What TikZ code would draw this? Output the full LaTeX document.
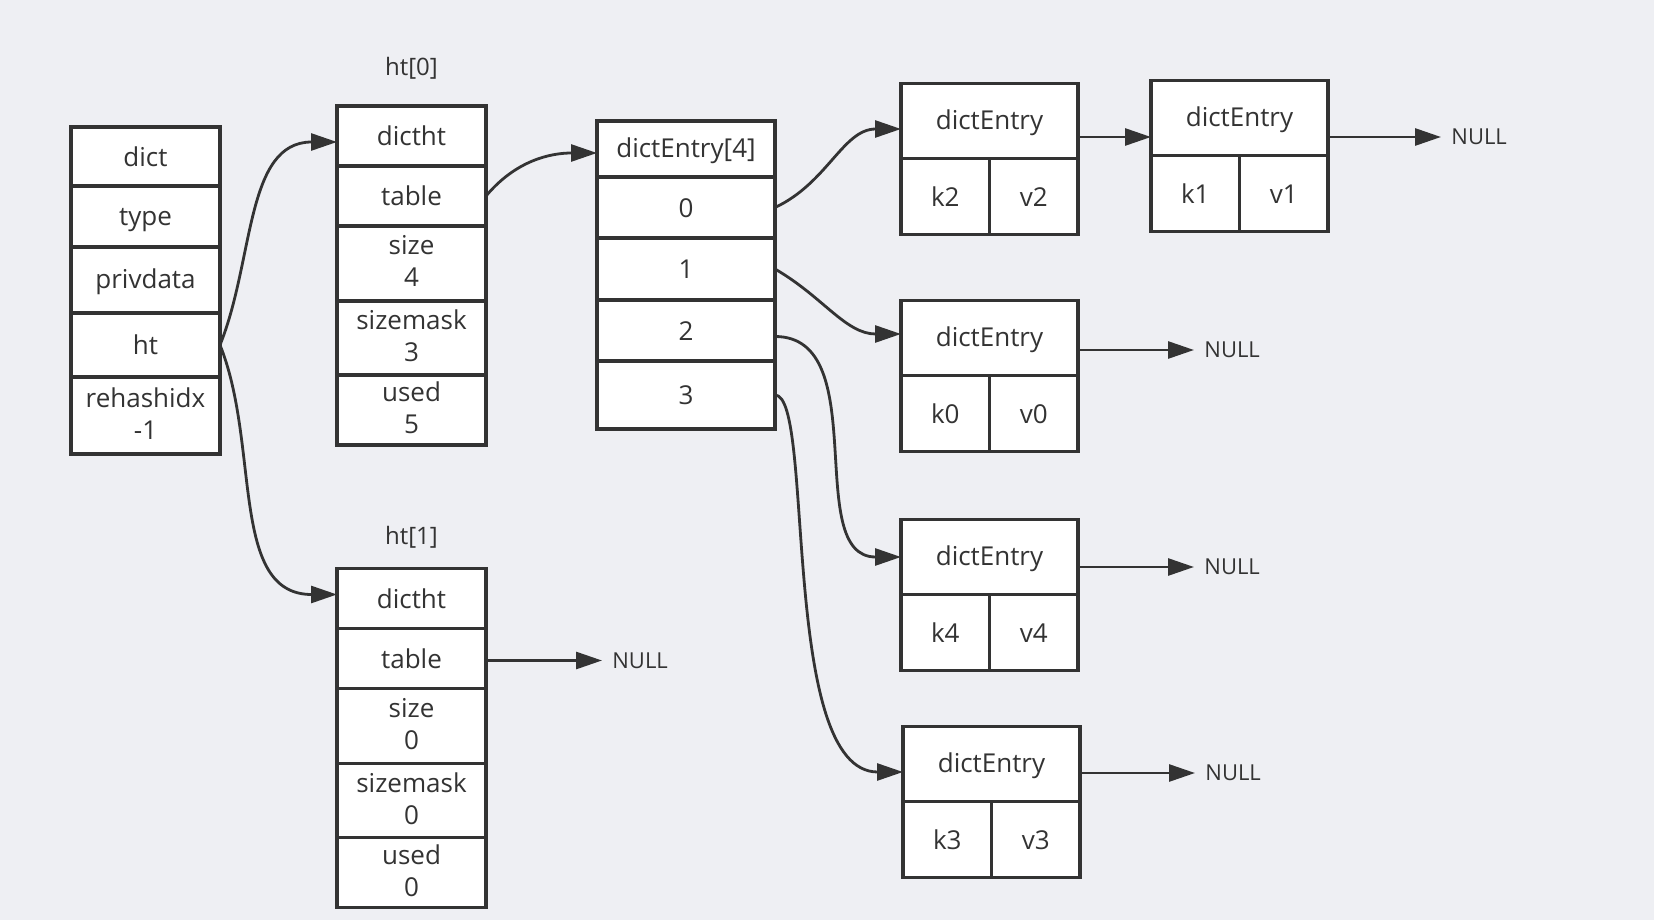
\documentclass[tikz,border=0pt]{standalone}
\usepackage{fontspec}
\setmainfont{Open Sans}
\usepackage{xcolor}
\usepackage{tikz}
\usetikzlibrary{arrows.meta, positioning}

\definecolor{bgc}{RGB}{238,239,243}
\definecolor{ink}{RGB}{51,51,51}
\newcommand{\celltop}{\rule{0pt}{12pt}}
\newcommand{\cellbot}{\rule[-2.2pt]{0pt}{2.2pt}}

\begin{document}
\begin{tikzpicture}[x=0.5pt, y=0.5pt]
\tikzstyle{cell} = [rectangle, draw=ink, fill=white, line width=1.6pt, inner sep=0pt, outer sep=0pt, align=center, text=ink, font=\fontsize{13}{16}\selectfont, execute at begin node=\celltop, execute at end node=\cellbot]
\tikzstyle{field} = [cell, minimum width=74.5pt]
\tikzstyle{slot} = [cell, minimum width=89pt]
\tikzstyle{head} = [cell, minimum width=88.5pt, minimum height=37.5pt]
\tikzstyle{kv} = [cell, minimum width=44.25pt, minimum height=38pt]
\tikzstyle{tag} = [inner sep=5pt, text=ink, font=\fontsize{11}{13}\selectfont]
\tikzstyle{title} = [inner sep=3pt, text=ink, font=\fontsize{12}{14}\selectfont]
\tikzstyle{ptr} = [draw=ink, line width=1.4pt, -{Triangle[length=13pt, width=8.5pt]}]

\useasboundingbox (0,0) rectangle (1654,-920);
\fill [bgc] (0,0) rectangle (1654,-920);

% dict
\node (dict) [field, minimum height=29.5pt] at (145.5,-156.5) {dict};
\node (type) [field, minimum height=30.5pt, below=0pt of dict] {type};
\node (priv) [field, minimum height=33pt, below=0pt of type] {privdata};
\node (ht) [field, minimum height=32pt, below=0pt of priv] {ht};
\node (rehash) [field, minimum height=38.5pt, below=0pt of ht] {rehashidx\\-1};

% ht[0]
\node (t0head) [field, minimum height=30pt] at (411.5,-136) {dictht};
\node (t0table) [field, minimum height=30pt, below=0pt of t0head] {table};
\node (t0size) [field, minimum height=37.5pt, below=0pt of t0table] {size\\4};
\node (t0mask) [field, minimum height=37pt, below=0pt of t0size] {sizemask\\3};
\node (t0used) [field, minimum height=35pt, below=0pt of t0mask] {used\\5};
\node (t0name) [title, above=10pt of t0head] {ht[0]};

% ht[1]
\node (t1head) [field, minimum height=30pt, below=61.75pt of t0used] {dictht};
\node (t1table) [field, minimum height=30pt, below=0pt of t1head] {table};
\node (t1size) [field, minimum height=37.5pt, below=0pt of t1table] {size\\0};
\node (t1mask) [field, minimum height=37pt, below=0pt of t1size] {sizemask\\0};
\node (t1used) [field, minimum height=35pt, below=0pt of t1mask] {used\\0};
\node (t1name) [title, above=7pt of t1head] {ht[1]};

% table
\node (slots) [slot, minimum height=28pt] at (686,-149) {dictEntry[4]};
\node (s0) [slot, minimum height=30.5pt, below=0pt of slots] {0};
\node (s1) [slot, minimum height=31pt, below=0pt of s0] {1};
\node (s2) [slot, minimum height=30.5pt, below=0pt of s1] {2};
\node (s3) [slot, minimum height=34pt, below=0pt of s2] {3};

% entries
\node (e2) [head] at (989.5,-121) {dictEntry};
\node (e2k) [kv, anchor=north west] at (e2.south west) {k2};
\node (e2v) [kv, anchor=north east] at (e2.south east) {v2};

\node (e1) [head, right=36.5pt of e2, yshift=1.5pt] {dictEntry};
\node (e1k) [kv, anchor=north west] at (e1.south west) {k1};
\node (e1v) [kv, anchor=north east] at (e1.south east) {v1};

\node (e0) [head, below=71pt of e2] {dictEntry};
\node (e0k) [kv, anchor=north west] at (e0.south west) {k0};
\node (e0v) [kv, anchor=north east] at (e0.south east) {v0};

\node (e4) [head, below=72pt of e0] {dictEntry};
\node (e4k) [kv, anchor=north west] at (e4.south west) {k4};
\node (e4v) [kv, anchor=north east] at (e4.south east) {v4};

\node (e3) [head, below=66pt of e4, xshift=1pt] {dictEntry};
\node (e3k) [kv, anchor=north west] at (e3.south west) {k3};
\node (e3v) [kv, anchor=north east] at (e3.south east) {v3};

% NULL ends
\node (n1) [tag, right=56.5pt of e1, yshift=-9.5pt] {NULL};
\node (n0) [tag, right=58pt of e0, yshift=-6pt] {NULL};
\node (n4) [tag, right=58pt of e4, yshift=-5pt] {NULL};
\node (n3) [tag, right=57.5pt of e3, yshift=-4.5pt] {NULL};
\node (n5) [tag, right=58pt of t1table, yshift=-1pt] {NULL};

% pointers
\draw [ptr] (ht.east) to[out=68, in=180] ([yshift=-3pt]t0head.west);
\draw [ptr] (ht.east) to[out=-68, in=180] ([yshift=2pt]t1head.west);
\draw [ptr] (t0table.east) to[out=50, in=180] ([yshift=-2pt]slots.west);
\draw [ptr] (s0.east) to[out=25, in=180] ([yshift=-4pt]e2.west);
\draw [ptr] (s1.east) to[out=-30, in=180] ([yshift=2pt]e0.west);
\draw [ptr] ([yshift=-3pt]s2.east) to[out=0, in=180] (e4.west);
\draw [ptr] (s3.east) .. controls +(20pt,0pt) and +(-62pt,0pt) .. ([yshift=-4pt]e3.west);
\draw [ptr] (e2.east |- n1) -- (e1.west |- n1);
\draw [ptr] (e1.east |- n1) -- (n1);
\draw [ptr] (e0.east |- n0) -- (n0);
\draw [ptr] (e4.east |- n4) -- (n4);
\draw [ptr] (e3.east |- n3) -- (n3);
\draw [ptr] (t1table.east |- n5) -- (n5);

\end{tikzpicture}
\end{document}
